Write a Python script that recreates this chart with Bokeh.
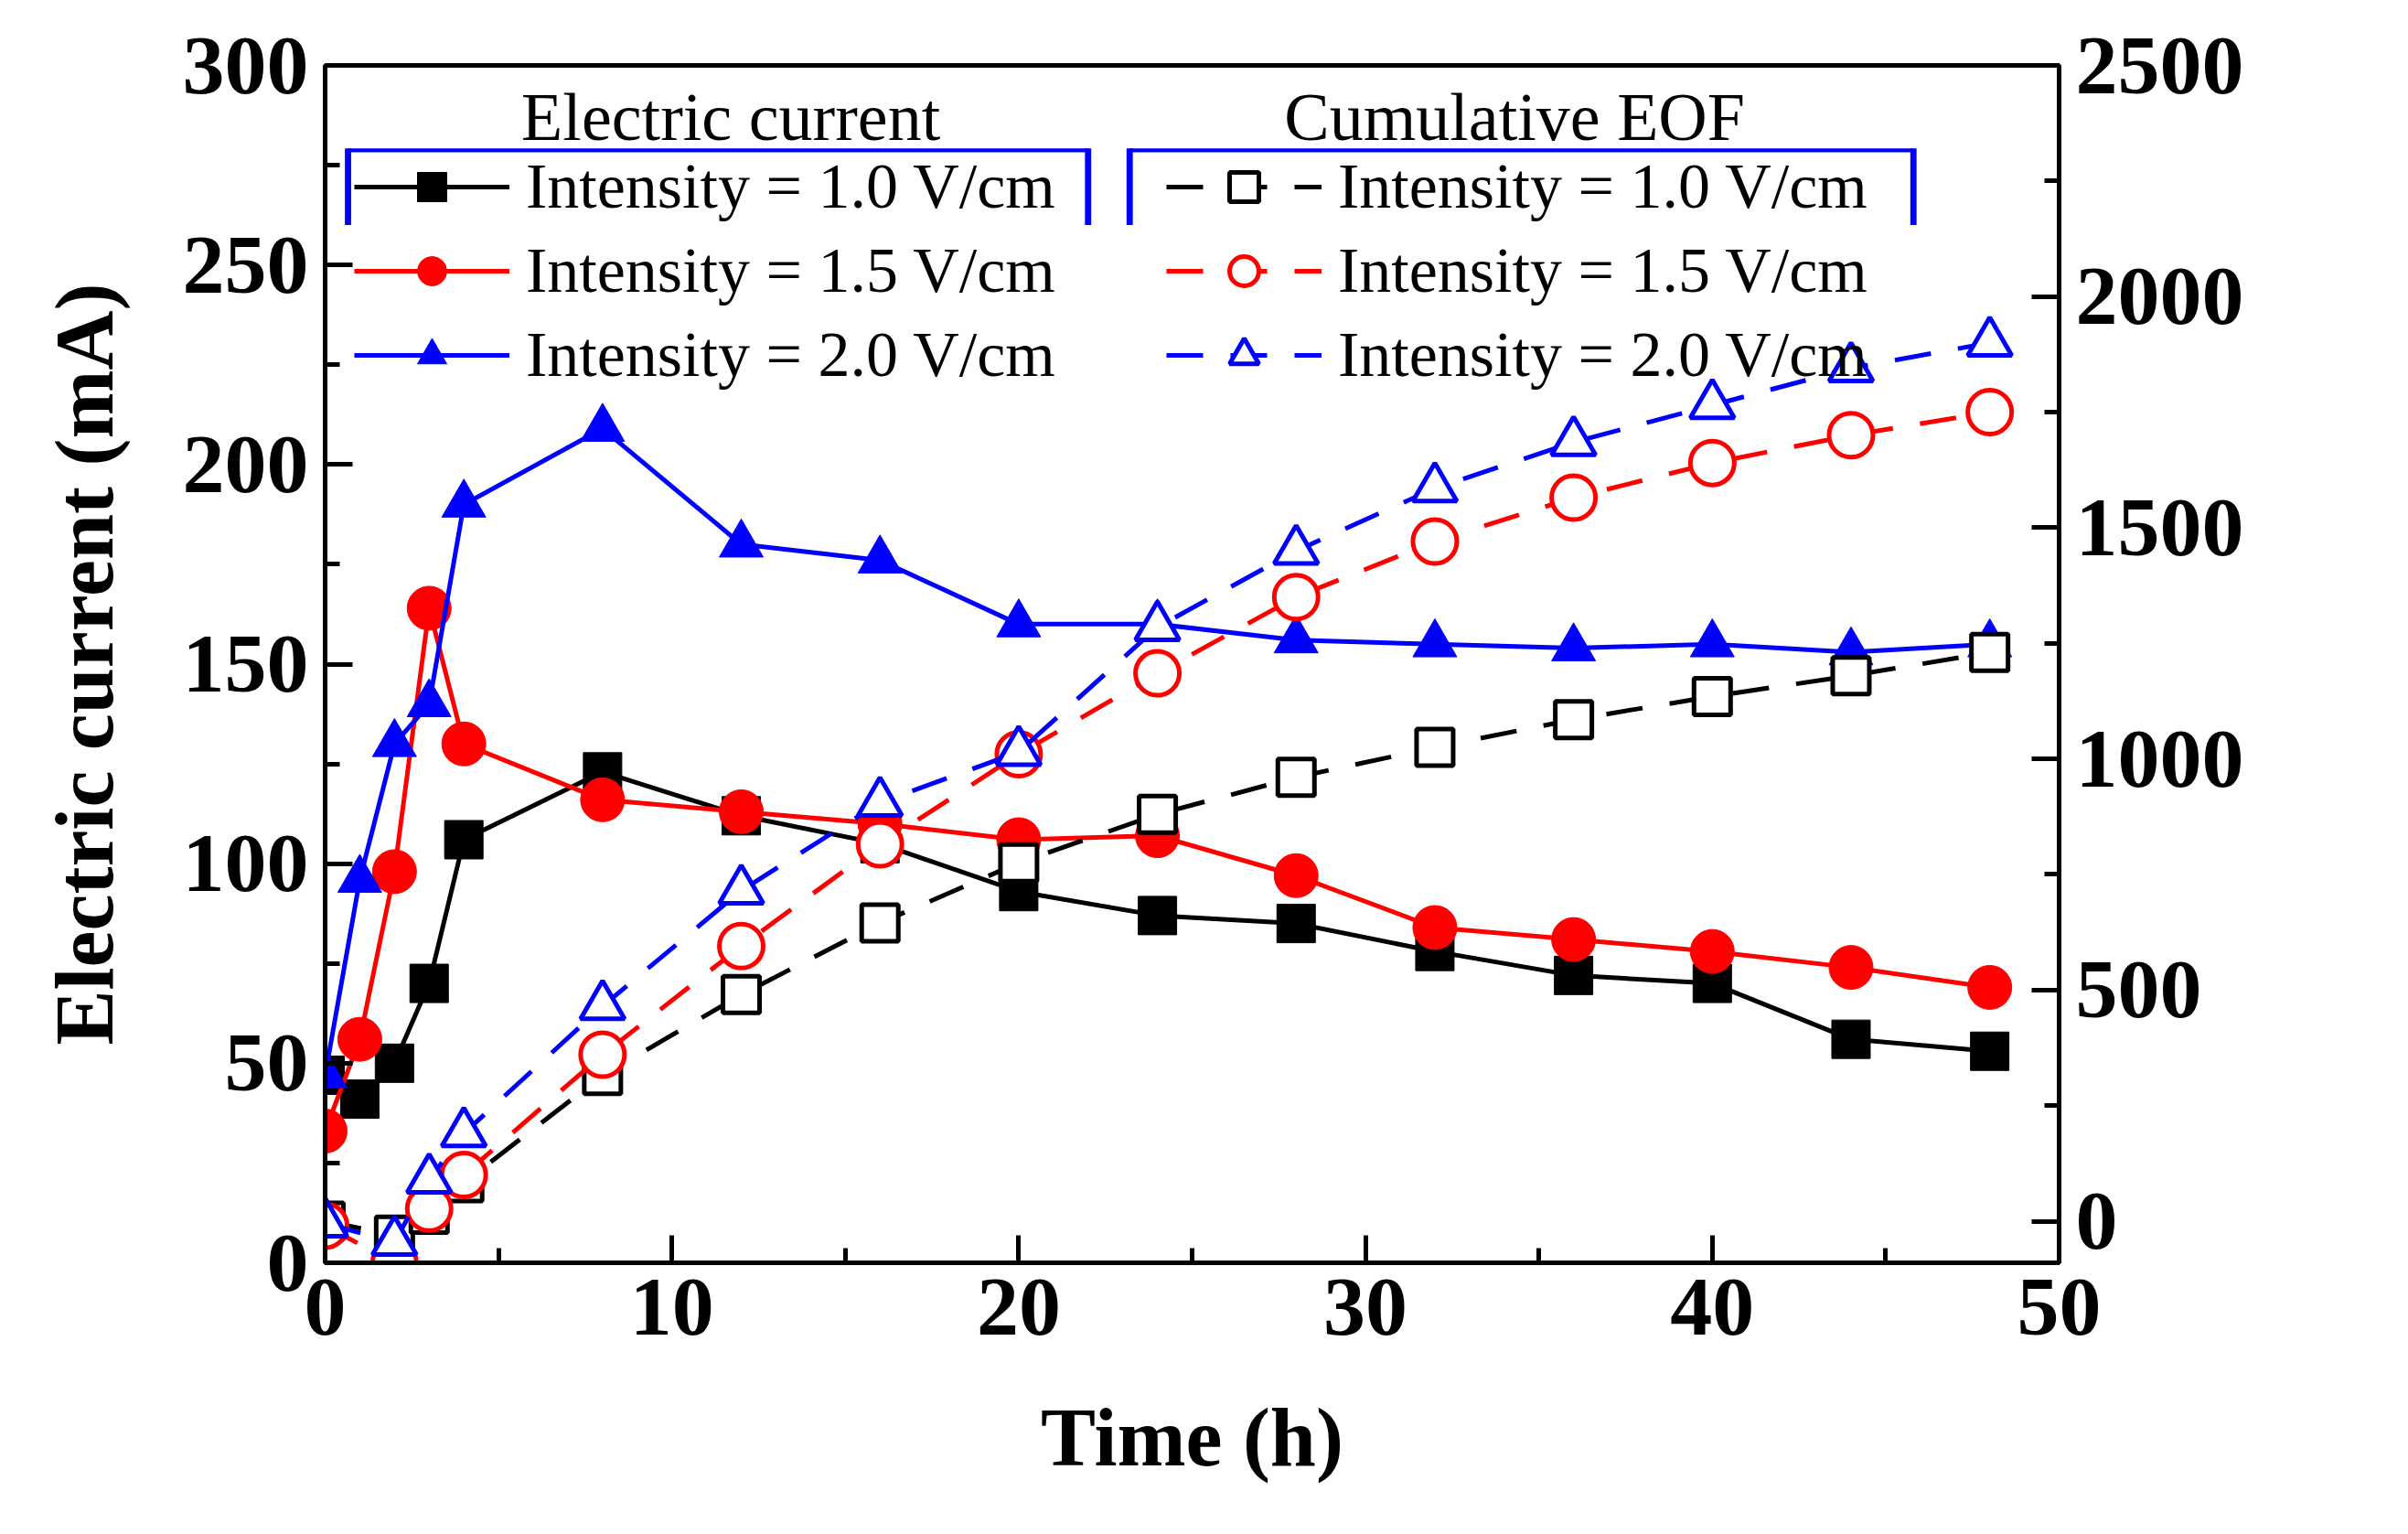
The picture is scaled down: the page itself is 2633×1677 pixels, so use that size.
import math
from bokeh.plotting import figure
from bokeh.models import (Range1d, LinearAxis, Legend, LegendItem, Label, BoxAnnotation,
                          FixedTicker)
from bokeh.embed import file_html
from bokeh.resources import INLINE

t_cur = [0, 1, 2, 3, 4, 8, 12, 16, 20, 24, 28, 32, 36, 40, 44, 48]
cur_10 = [47, 41, 50, 70, 106, 123, 112, 105, 93, 87, 85, 78, 72, 70, 56, 53]
cur_15 = [33, 56, 98, 164, 130, 116, 113, 110, 106, 107, 97, 84, 81, 78, 74, 69]
cur_20 = [47, 96, 130, 140, 190, 209, 180, 176, 160, 160, 156, 155, 154, 155, 153, 155]

t_eof = [0, 2, 3, 4, 8, 12, 16, 20, 24, 28, 32, 36, 40, 44, 48]
eof_10 = [0, -30, 15, 83, 315, 490, 645, 775, 880, 960, 1025, 1085, 1135, 1180, 1230]
eof_15 = [-10, -90, 27, 100, 360, 595, 815, 1010, 1185, 1350, 1470, 1565, 1640, 1700, 1750]
eof_20 = [-5, -45, 90, 190, 465, 715, 905, 1015, 1285, 1450, 1585, 1685, 1765, 1845, 1900]

labels = ["Intensity = 1.0 V/cm", "Intensity = 1.5 V/cm", "Intensity = 2.0 V/cm"]
colors = ["black", "red", "blue"]

FONT = "Liberation Serif"

p = figure(width=2617, height=1660, output_backend="svg", toolbar_location=None,
           x_range=Range1d(0, 50), y_range=Range1d(0, 300),
           min_border_left=355, min_border_right=366, min_border_top=71, min_border_bottom=280)
p.extra_y_ranges = {"eof": Range1d(-90, 2500)}
p.grid.visible = False
p.outline_line_color = "black"
p.outline_line_width = 5

def style(ax, ticks, minor):
    ax.ticker = FixedTicker(ticks=ticks, minor_ticks=minor)
    ax.major_label_text_font = FONT
    ax.major_label_text_font_style = "bold"
    ax.major_label_text_font_size = "92px"
    ax.major_label_text_color = "black"
    ax.axis_label_text_font = FONT
    ax.axis_label_text_font_style = "bold"
    ax.axis_label_text_font_size = "90px"
    ax.axis_label_text_color = "black"
    ax.axis_line_width = 5
    ax.major_tick_line_width = 5
    ax.minor_tick_line_width = 5
    ax.major_tick_in = 30
    ax.major_tick_out = 0
    ax.minor_tick_in = 16
    ax.minor_tick_out = 0
    ax.major_label_standoff = 18

style(p.xaxis[0], list(range(0, 51, 10)), list(range(0, 51, 5)))
p.xaxis[0].axis_label = "Time (h)"
p.xaxis[0].axis_label_standoff = 60
style(p.yaxis[0], list(range(0, 301, 50)), list(range(0, 301, 25)))
p.yaxis[0].axis_label = "Electric current (mA)"
p.yaxis[0].axis_label_standoff = 55

ax2 = LinearAxis(y_range_name="eof")
style(ax2, list(range(0, 2501, 500)), list(range(-250, 2501, 250)))
p.add_layout(ax2, "right")
p.add_layout(Label(x=50, y=145, x_offset=300, text="Cumulative EOF (mL)", angle=math.pi / 2,
                   text_align="center", text_baseline="middle", text_font=FONT,
                   text_font_style="bold", text_font_size="90px", text_color="black"))

cur_items, eof_items = [], []
markers_f = ["square", "circle", "triangle"]
for ys, c, m, lab in zip([cur_10, cur_15, cur_20], colors, markers_f, labels):
    l = p.line(t_cur, ys, line_color=c, line_width=5)
    s = p.scatter(t_cur, ys, marker=m, size=48 if m != "square" else 42, fill_color=c, line_color=c)
    cur_items.append(LegendItem(label=lab, renderers=[l, s]))
for ys, c, m, lab in zip([eof_10, eof_15, eof_20], colors, markers_f, labels):
    l = p.line(t_eof, ys, line_color=c, line_width=5, line_dash="40 30", y_range_name="eof")
    s = p.scatter(t_eof, ys, marker=m, size=48 if m != "square" else 40, fill_color="white",
                  line_color=c, line_width=5, y_range_name="eof")
    eof_items.append(LegendItem(label=lab, renderers=[l, s]))

def mk_legend(items, x):
    return Legend(items=items, location=(x, 952), padding=0, margin=0, spacing=12,
                  glyph_width=170, glyph_height=80, label_standoff=18,
                  label_text_font=FONT, label_text_font_size="70px", label_text_color="black",
                  background_fill_alpha=0, border_line_color=None, label_height=80)

p.add_layout(mk_legend(cur_items, 32), "center")
p.add_layout(mk_legend(eof_items, 920), "center")

for txt, xc in [("Electric current", 11.7), ("Cumulative EOF", 34.3)]:
    p.add_layout(Label(x=xc, y=287, text=txt, text_align="center", text_baseline="middle",
                       text_font=FONT, text_font_size="74px", text_color="black"))

for x0, x1 in [(0.66, 22.0), (23.2, 45.8)]:
    p.add_layout(BoxAnnotation(left=x0, right=x1, top=279.2, bottom=278.2,
                               fill_color="blue", fill_alpha=1, line_color=None))
    for xv in (x0, x1):
        p.add_layout(BoxAnnotation(left=xv - 0.09, right=xv + 0.09, top=279.2, bottom=260,
                                   fill_color="blue", fill_alpha=1, line_color=None))

open("out.html", "w").write(file_html(p, INLINE))
